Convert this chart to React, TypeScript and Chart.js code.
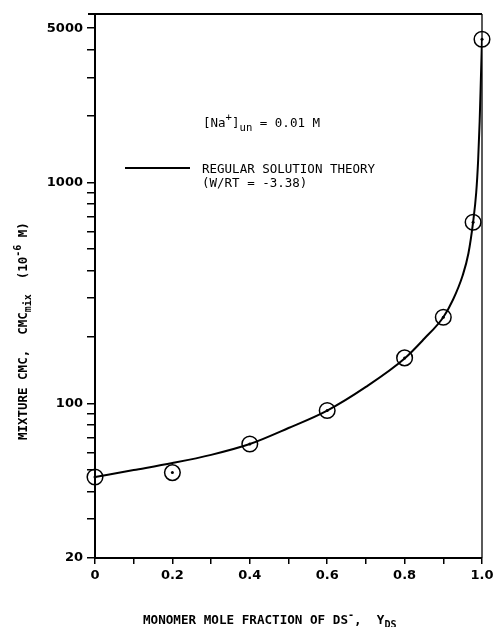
import React, { useEffect, useRef } from "react";
import { Chart, registerables } from "chart.js";

Chart.register(...registerables);

// Measured mixture CMC (10^-6 M) vs. monomer mole fraction of DS-
const FRACTION_DS = [0, 0.2, 0.4, 0.6, 0.8, 0.9, 0.977, 1.0];
const CMC_MEASURED = [46.5, 48.7, 65.6, 93, 161, 246, 662, 4460];

// Regular solution theory curve (W/RT = -3.38)
const THEORY_X = [0, 0.1, 0.2, 0.3, 0.4, 0.5, 0.6, 0.7, 0.8, 0.85, 0.9, 0.925, 0.95, 0.965, 0.977, 0.985, 0.99, 0.994, 0.997, 1.0];
const THEORY_CMC = [46.5, 50, 53.8, 58.6, 65.6, 77.5, 93, 119, 160, 196, 246, 295, 380, 479, 662, 900, 1260, 1900, 2900, 4460];

// Axis ticks
const X_TICK_VALUES = [0, 0.1, 0.2, 0.3, 0.4, 0.5, 0.6, 0.7, 0.8, 0.9, 1.0];
const X_TICK_LABELS = ["0", "", "0.2", "", "0.4", "", "0.6", "", "0.8", "", "1.0"];
const Y_TICK_VALUES = [20, 30, 40, 50, 60, 70, 80, 90, 100, 200, 300, 400, 500, 600, 700, 800, 900, 1000, 2000, 3000, 4000, 5000];
const Y_TICK_LABELS = ["20", "", "", "", "", "", "", "", "100", "", "", "", "", "", "", "", "", "1000", "", "", "", "5000"];

const MONO = "'DejaVu Sans Mono', 'Liberation Mono', monospace";

type Run = { t: string; k?: "sub" | "sup" };

// Draws a line of text with sub/superscript runs, starting at the current origin.
function drawRich(
  ctx: CanvasRenderingContext2D,
  runs: Run[],
  size: number,
  bold: boolean,
  sx: number,
  smallScale = 0.75
) {
  let cx = 0;
  for (const r of runs) {
    const s = r.k ? size * smallScale : size;
    ctx.font = `${bold ? "bold " : ""}${s}px ${MONO}`;
    const dy = r.k === "sub" ? size * 0.32 : r.k === "sup" ? -size * 0.45 : 0;
    ctx.save();
    ctx.scale(sx, 1);
    ctx.fillText(r.t, cx / sx, dy);
    ctx.restore();
    cx += ctx.measureText(r.t).width * sx;
  }
}

const labelIndex = (vals: number[], v: number) =>
  vals.findIndex((x) => Math.abs(x - v) < 1e-6 * Math.max(1, Math.abs(x)));

const annotationPlugin = {
  id: "annotations",
  beforeDatasetsDraw(chart: any) {
    const { ctx, chartArea: a } = chart;
    ctx.save();
    ctx.strokeStyle = "#000";
    // plot frame: heavier top / left / bottom, thinner right
    ctx.lineWidth = 2;
    ctx.beginPath();
    ctx.moveTo(a.left - 7, a.top);
    ctx.lineTo(a.right, a.top);
    ctx.moveTo(a.left, a.top);
    ctx.lineTo(a.left, a.bottom);
    ctx.lineTo(a.right, a.bottom);
    ctx.stroke();
    ctx.lineWidth = 1.3;
    ctx.beginPath();
    ctx.moveTo(a.right, a.top);
    ctx.lineTo(a.right, a.bottom);
    ctx.stroke();
    ctx.restore();
  },
  afterDraw(chart: any) {
    const ctx: CanvasRenderingContext2D = chart.ctx;
    ctx.save();
    ctx.fillStyle = "#000";
    ctx.strokeStyle = "#000";
    ctx.textBaseline = "alphabetic";
    ctx.textAlign = "left";

    // salt concentration note
    ctx.save();
    ctx.translate(203, 127);
    drawRich(ctx, [{ t: "[Na" }, { t: "+", k: "sup" }, { t: "]" }, { t: "un", k: "sub" }, { t: " = 0.01 M" }], 12.5, false, 1.0, 0.85);
    ctx.restore();

    // legend
    ctx.lineWidth = 2;
    ctx.beginPath();
    ctx.moveTo(125, 168);
    ctx.lineTo(190, 168);
    ctx.stroke();
    ctx.save();
    ctx.translate(202, 172.5);
    drawRich(ctx, [{ t: "REGULAR SOLUTION THEORY" }], 12.5, false, 1.0);
    ctx.restore();
    ctx.save();
    ctx.translate(202, 187);
    drawRich(ctx, [{ t: "(W/RT = -3.38)" }], 12.5, false, 1.0);
    ctx.restore();

    // x-axis title
    ctx.save();
    ctx.translate(143, 624);
    drawRich(
      ctx,
      [{ t: "MONOMER MOLE FRACTION OF DS" }, { t: "-", k: "sup" }, { t: ",  Y" }, { t: "DS", k: "sub" }],
      13,
      true,
      0.97,
      0.8
    );
    ctx.restore();

    // y-axis title
    ctx.save();
    ctx.translate(27, 440);
    ctx.rotate(-Math.PI / 2);
    drawRich(
      ctx,
      [{ t: "MIXTURE CMC,  CMC" }, { t: "mix", k: "sub" }, { t: "  (10" }, { t: "-6", k: "sup" }, { t: " M)" }],
      13,
      true,
      0.96,
      0.8
    );
    ctx.restore();

    ctx.restore();
  },
};

export default function App() {
  const ref = useRef<HTMLCanvasElement | null>(null);

  useEffect(() => {
    if (!ref.current) return;
    const tickFont = { family: "'DejaVu Sans', sans-serif", weight: "bold" as const, size: 13 };
    const chart = new Chart(ref.current, {
      type: "scatter",
      data: {
        datasets: [
          {
            data: THEORY_X.map((x, i) => ({ x, y: THEORY_CMC[i] })),
            showLine: true,
            borderColor: "#000",
            borderWidth: 2,
            pointRadius: 0,
            cubicInterpolationMode: "monotone",
          },
          {
            data: FRACTION_DS.map((x, i) => ({ x, y: CMC_MEASURED[i] })),
            pointStyle: "circle",
            pointRadius: 7.8,
            borderColor: "#000",
            borderWidth: 1.5,
            backgroundColor: "rgba(0,0,0,0)",
            clip: false,
          },
          {
            data: FRACTION_DS.map((x, i) => ({ x, y: CMC_MEASURED[i] })),
            pointStyle: "circle",
            pointRadius: 1.5,
            borderWidth: 0,
            backgroundColor: "#000",
            clip: false,
          },
        ] as any,
      },
      options: {
        animation: false,
        responsive: false,
        devicePixelRatio: 1,
        layout: { padding: { left: 0, right: 11, top: 14, bottom: 0 } },
        plugins: { legend: { display: false }, tooltip: { enabled: false } },
        scales: {
          x: {
            type: "linear",
            min: 0,
            max: 1,
            afterBuildTicks: (s: any) => {
              s.ticks = X_TICK_VALUES.map((value) => ({ value }));
            },
            afterFit: (s: any) => {
              s.height = 69;
              s.paddingLeft = 0;
              s.paddingRight = 0;
            },
            ticks: {
              callback: (v: any) => X_TICK_LABELS[labelIndex(X_TICK_VALUES, Number(v))] ?? "",
              font: tickFont,
              color: "#000",
              padding: 4,
              maxRotation: 0,
              autoSkip: false,
            },
            grid: { drawOnChartArea: false, drawTicks: true, tickLength: 6, color: "#000", lineWidth: 1.5 },
            border: { display: false },
          },
          y: {
            type: "logarithmic",
            min: 20,
            max: 5800,
            afterBuildTicks: (s: any) => {
              s.ticks = Y_TICK_VALUES.map((value) => ({ value }));
            },
            afterFit: (s: any) => {
              s.width = 95;
              s.paddingTop = 0;
              s.paddingBottom = 0;
            },
            ticks: {
              callback: (v: any) => Y_TICK_LABELS[labelIndex(Y_TICK_VALUES, Number(v))] ?? "",
              font: tickFont,
              color: "#000",
              padding: 4,
              autoSkip: false,
            },
            grid: { drawOnChartArea: false, drawTicks: true, tickLength: 8, color: "#000", lineWidth: 1.5 },
            border: { display: false },
          },
        },
      } as any,
      plugins: [annotationPlugin],
    });
    return () => chart.destroy();
  }, []);

  return (
    <div style={{ position: "fixed", left: 0, top: 0, width: 493, height: 627, background: "#fff" }}>
      <canvas ref={ref} width={493} height={627} style={{ display: "block", width: 493, height: 627 }} />
    </div>
  );
}
